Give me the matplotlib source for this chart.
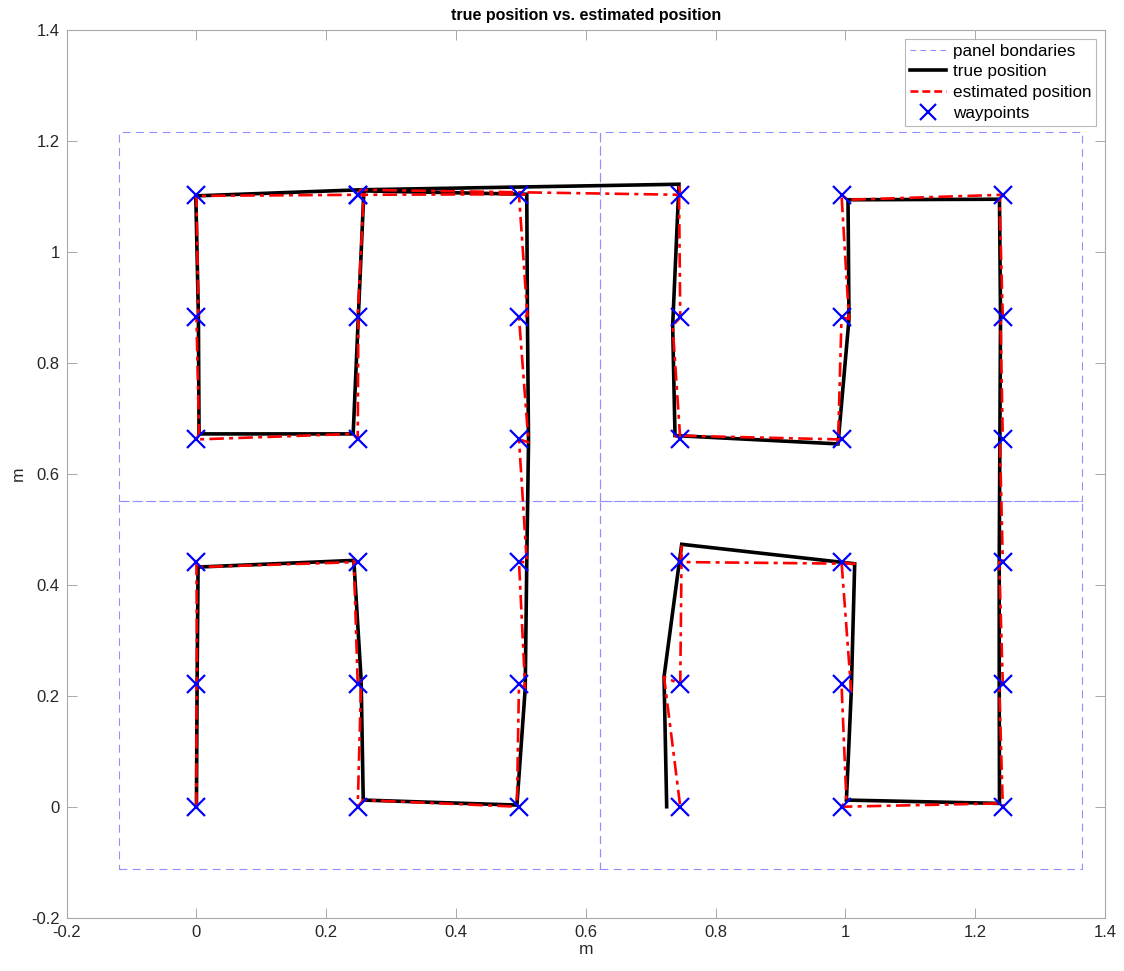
import matplotlib
matplotlib.use("Agg")
import matplotlib.pyplot as plt
from matplotlib.lines import Line2D
import numpy as np

plt.rcParams['font.family'] = ['Liberation Sans', 'DejaVu Sans']

# Waypoints in visiting order (m)
wp_x = [0.0, 0.0, 0.0, 0.2485, 0.2485, 0.2485, 0.497, 0.497, 0.497, 0.497,
        0.497, 0.497, 0.2485, 0.2485, 0.2485, 0.0, 0.0, 0.0, 0.2485, 0.7455,
        0.7455, 0.7455, 0.994, 0.994, 0.994, 1.2425, 1.2425, 1.2425, 1.2425, 1.2425,
        1.2425, 0.994, 0.994, 0.994, 0.7455, 0.7455, 0.7455]
wp_y = [0.0, 0.221, 0.441, 0.441, 0.221, 0.0, 0.0, 0.221, 0.441, 0.662,
        0.882, 1.103, 1.103, 0.882, 0.662, 0.662, 0.882, 1.103, 1.103, 1.103,
        0.882, 0.662, 0.662, 0.882, 1.103, 1.103, 0.882, 0.662, 0.441, 0.221,
        0.0, 0.0, 0.221, 0.441, 0.441, 0.221, 0.0]

# True robot position on arrival at each waypoint (m)
true_x = [0.0, 0.001, 0.0025, 0.2425, 0.2538, 0.257, 0.4938, 0.5066, 0.509, 0.5117,
          0.510, 0.509, 0.258, 0.2495, 0.2415, 0.004, 0.003, -0.001, 0.2528, 0.7435,
          0.7338, 0.7374, 0.9886, 1.0055, 1.004, 1.2374, 1.239, 1.238, 1.237, 1.237,
          1.2374, 1.0015, 1.009, 1.0143, 0.7477, 0.7205, 0.7246]
true_y = [0.0, 0.221, 0.432, 0.444, 0.228, 0.012, 0.003, 0.213, 0.441, 0.657,
          0.885, 1.104, 1.110, 0.885, 0.672, 0.672, 0.885, 1.101, 1.112, 1.122,
          0.867, 0.669, 0.654, 0.879, 1.094, 1.095, 0.882, 0.662, 0.441, 0.221,
          0.006, 0.012, 0.207, 0.438, 0.473, 0.234, 0.0]

# Panel grid edges (m)
panel_x_edges = [-0.12, 0.6225, 1.365]
panel_y_edges = [-0.113, 0.5515, 1.216]

# The estimate is reset to the true position at each waypoint and then
# driven straight to the next waypoint.
wx, wy = np.asarray(wp_x), np.asarray(wp_y)
tx, ty = np.asarray(true_x), np.asarray(true_y)
est_x = np.empty(2 * len(wx) - 1)
est_y = np.empty(2 * len(wy) - 1)
est_x[0::2] = tx
est_y[0::2] = ty
est_x[1::2] = wx[1:]
est_y[1::2] = wy[1:]
est_x = np.append(est_x[:-1], wx[-1])
est_y = np.append(est_y[:-1], wy[-1])

fig = plt.figure(figsize=(11.24, 9.71), dpi=100)
ax = fig.add_axes([0.0593, 0.0549, 0.9238, 0.9142])

panel_color = '#8f8fff'
for i in range(2):
    for j in range(2):
        x0, x1 = panel_x_edges[i], panel_x_edges[i + 1]
        y0, y1 = panel_y_edges[j], panel_y_edges[j + 1]
        ax.plot([x0, x1, x1, x0, x0], [y0, y0, y1, y1, y0],
                color=panel_color, lw=0.8, dashes=(7, 5), zorder=1)

ax.plot(tx, ty, color='black', lw=2.6, solid_joinstyle='miter', zorder=3)
est_line, = ax.plot(est_x, est_y, color='red', lw=1.9, zorder=4)
est_line.set_dashes([5.5, 2.0, 1.5, 2.0])
ax.plot(wx, wy, linestyle='none', marker='x', color='blue',
        markersize=13, markeredgewidth=1.6, zorder=5)

ax.set_xlim(-0.2, 1.4)
ax.set_ylim(-0.2, 1.4)
ax.set_xticks(np.arange(-0.2, 1.41, 0.2))
ax.set_yticks(np.arange(-0.2, 1.41, 0.2))
ax.set_xticklabels(['-0.2', '0', '0.2', '0.4', '0.6', '0.8', '1', '1.2', '1.4'])
ax.set_yticklabels(['-0.2', '0', '0.2', '0.4', '0.6', '0.8', '1', '1.2', '1.4'])
ax.tick_params(direction='in', length=7, width=0.6, color='#9a9a9a',
               labelsize=12, labelcolor='#262626', top=True, right=True, pad=5)
for s in ax.spines.values():
    s.set_color('#a8a8a8')
    s.set_linewidth(0.8)

ax.set_title('true position vs. estimated position', fontsize=11.5,
             fontweight='bold', color='black', pad=7)
ax.set_xlabel('m', fontsize=12.5, color='#262626', labelpad=2)
ax.set_ylabel('m', fontsize=12.5, color='#262626', labelpad=4)

handles = [
    Line2D([], [], color=panel_color, lw=0.8, dashes=(5, 4)),
    Line2D([], [], color='black', lw=2.6),
    Line2D([], [], color='red', lw=1.9, dashes=(3, 1.5)),
    Line2D([], [], linestyle='none', marker='x', color='blue',
           markersize=11, markeredgewidth=1.6),
]
labels = ['panel bondaries', 'true position', 'estimated position', 'waypoints']
leg = ax.legend(handles, labels, loc='upper right', fontsize=12.3,
                frameon=True, fancybox=False, borderaxespad=0.5,
                handlelength=2.1, handletextpad=0.4, labelspacing=0.33,
                borderpad=0.3)
leg.get_frame().set_edgecolor('#a8a8a8')
leg.get_frame().set_linewidth(0.8)

fig.savefig('out.png', dpi=100, facecolor='white')
